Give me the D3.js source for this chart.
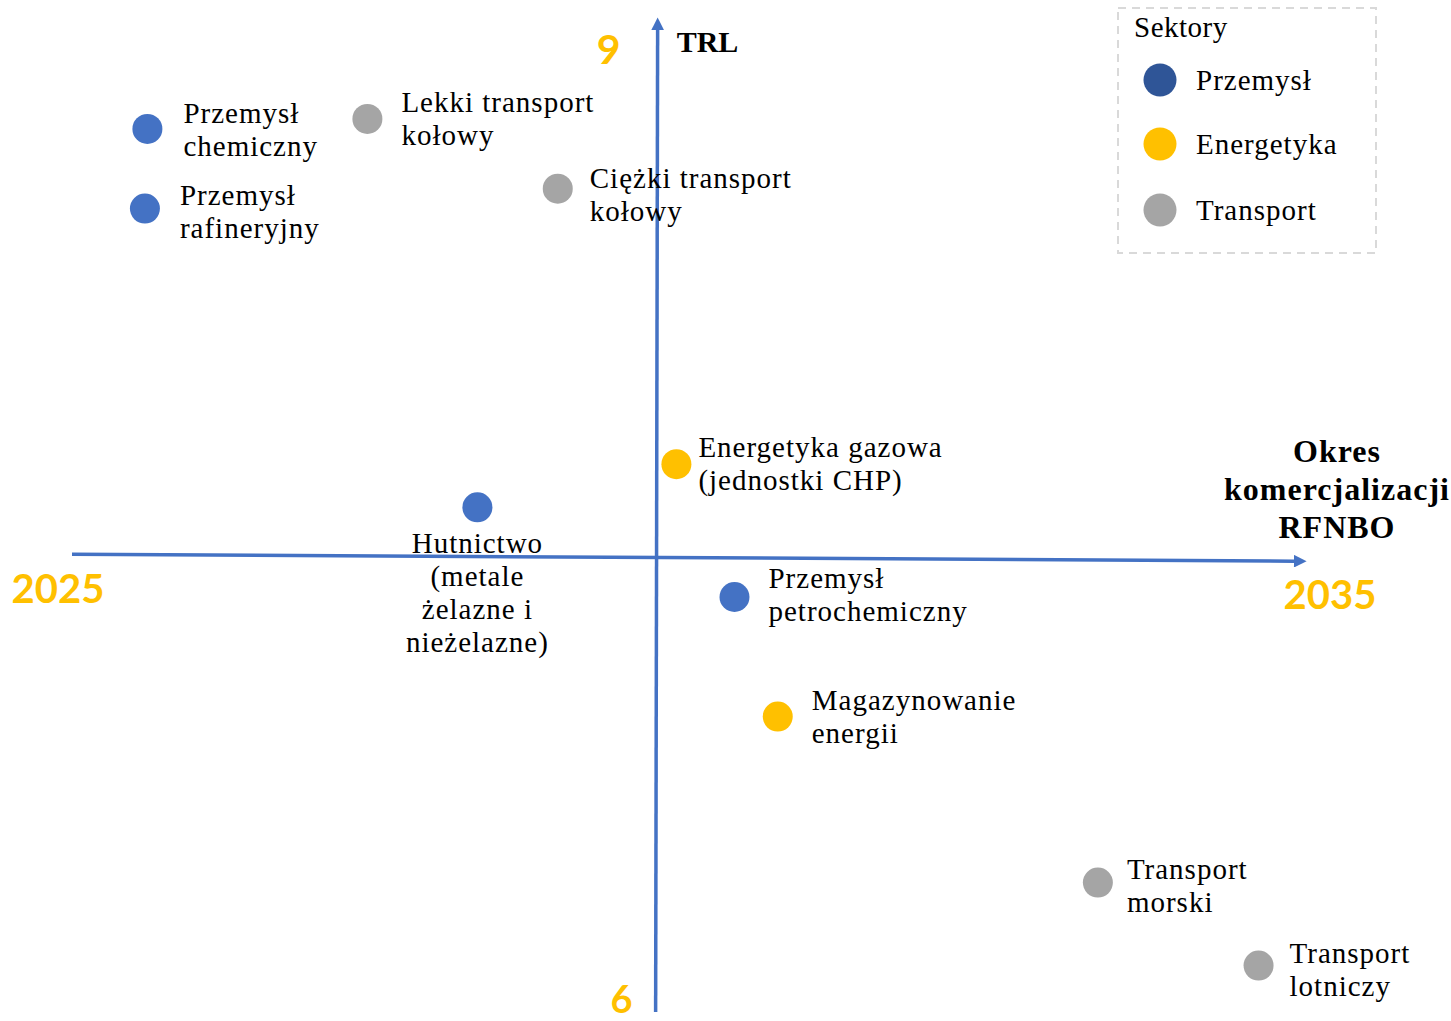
<!DOCTYPE html>
<html><head><meta charset="utf-8">
<script src="https://cdn.jsdelivr.net/npm/d3@7"></script>
<style>
html,body{margin:0;padding:0;background:#fff;}
svg{display:block;}
</style></head>
<body>
<svg id="chart" width="1451" height="1021"></svg>
<script>
// ---- data ----
const labels = [
  ["Przemysł", "chemiczny"],
  ["Lekki transport", "kołowy"],
  ["Przemysł", "rafineryjny"],
  ["Ciężki transport", "kołowy"],
  ["Energetyka gazowa", "(jednostki CHP)"],
  ["Hutnictwo", "(metale", "żelazne i", "nieżelazne)"],
  ["Przemysł", "petrochemiczny"],
  ["Magazynowanie", "energii"],
  ["Transport", "morski"],
  ["Transport", "lotniczy"]
];
const sectors = ["Przemysł","Transport","Przemysł","Transport","Energetyka","Przemysł","Przemysł","Energetyka","Transport","Transport"];
const years = [2025.61, 2027.39, 2025.59, 2028.93, 2029.89, 2028.28, 2030.36, 2030.71, 2033.30, 2034.60];
const trl   = [8.66, 8.69, 8.42, 8.48, 7.65, 7.52, 7.25, 6.89, 6.39, 6.14];
const legendSectors = ["Przemysł","Energetyka","Transport"];
const yearTicks = [2025, 2035];
const trlTicks = [9, 6];
const crossYear = 2029.73, crossTrl = 7.37;

// ---- layout (label offsets from their dots, in px) ----
const labelDx = [36, 34, 35, 32, 22, 0, 34, 34, 29, 31];
const labelDy = [-6, -7, -4, -1, -7, 46, -9, -7, -4, -3];

// ---- scales ----
const x = d3.scaleLinear().domain([2025, 2035]).range([72, 1308]);
const y = d3.scaleLinear().domain([6, 9]).range([1012, 16]);
const color = d3.scaleOrdinal().domain(legendSectors).range(["#4472C4","#FFC000","#A5A5A5"]);
const legendColor = d3.scaleOrdinal().domain(legendSectors).range(["#2F5597","#FFC000","#A5A5A5"]);

const svg = d3.select("#chart");
const serif = "'Liberation Serif','DejaVu Serif',serif";
const sans = "Lato,'Open Sans',sans-serif";
const axisCol = "#4472C4";

// arrow markers
const defs = svg.append("defs");
defs.append("marker").attr("id","arr").attr("viewBox","0 0 10 10")
  .attr("refX",0).attr("refY",5).attr("markerWidth",4.2).attr("markerHeight",3.6)
  .attr("markerUnits","strokeWidth").attr("orient","auto")
  .append("path").attr("d","M0,0L10,5L0,10Z").attr("fill",axisCol);

// horizontal axis (slightly tilted as in reference)
svg.append("line")
  .attr("x1", x(2025)).attr("y1", y(crossTrl) - 3)
  .attr("x2", x(2035) - 14).attr("y2", y(crossTrl) + 4)
  .attr("stroke", axisCol).attr("stroke-width", 3.5)
  .attr("marker-end","url(#arr)");
// vertical axis
svg.append("line")
  .attr("x1", x(crossYear) - 1).attr("y1", y(6))
  .attr("x2", x(crossYear) + 1).attr("y2", y(9) + 14)
  .attr("stroke", axisCol).attr("stroke-width", 3.5)
  .attr("marker-end","url(#arr)");

// tick labels (orange)
svg.append("text").attr("x", x(yearTicks[0]) - 14).attr("y", 603)
  .attr("text-anchor","middle").attr("font-family",sans).attr("font-weight","bold")
  .attr("font-size",40).attr("fill","#FFC000").text(yearTicks[0]);
svg.append("text").attr("x", x(yearTicks[1]) + 22).attr("y", 609)
  .attr("text-anchor","middle").attr("font-family",sans).attr("font-weight","bold")
  .attr("font-size",40).attr("fill","#FFC000").text(yearTicks[1]);
svg.append("text").attr("x", x(crossYear) - 48).attr("y", y(trlTicks[0]) + 48)
  .attr("text-anchor","middle").attr("font-family",sans).attr("font-weight","bold")
  .attr("font-size",41).attr("fill","#FFC000").text(trlTicks[0]);
svg.append("text").attr("x", x(crossYear) - 35).attr("y", 1013)
  .attr("text-anchor","middle").attr("font-family",sans).attr("font-weight","bold")
  .attr("font-size",38).attr("fill","#FFC000").text(trlTicks[1]);

// axis titles
svg.append("text").attr("x", x(crossYear) + 20).attr("y", 52)
  .attr("font-family",serif).attr("font-weight","bold").attr("font-size",30)
  .attr("fill","#000").text("TRL");
const xt = svg.append("text").attr("text-anchor","middle")
  .attr("font-family",serif).attr("font-weight","bold").attr("font-size",32)
  .attr("letter-spacing",1).attr("fill","#000");
["Okres","komercjalizacji","RFNBO"].forEach((t,i)=>{
  xt.append("tspan").attr("x",1337).attr("y",462 + i*38).text(t);
});

// points
const pts = labels.map((l,i)=>({label:l, sector:sectors[i], year:years[i], trl:trl[i], i}));
svg.selectAll("circle.pt").data(pts).enter().append("circle").attr("class","pt")
  .attr("cx", d=>x(d.year)).attr("cy", d=>y(d.trl)).attr("r", 15)
  .attr("fill", d=>color(d.sector));

// labels
pts.forEach(d=>{
  const cx = x(d.year), cy = y(d.trl);
  const centered = d.label.length > 2;
  const t = svg.append("text").attr("font-family",serif).attr("font-size",29)
    .attr("letter-spacing",1).attr("fill","#000")
    .attr("text-anchor", centered ? "middle" : "start");
  d.label.forEach((line,k)=>{
    t.append("tspan")
      .attr("x", cx + labelDx[d.i])
      .attr("y", cy + labelDy[d.i] + k*33)
      .text(line);
  });
});

// legend
svg.append("rect").attr("x",1118).attr("y",8).attr("width",258).attr("height",245)
  .attr("fill","none").attr("stroke","#D9D9D9").attr("stroke-width",2)
  .attr("stroke-dasharray","8,6");
svg.append("text").attr("x",1134).attr("y",37).attr("font-family",serif).attr("font-size",29)
  .attr("letter-spacing",0.5).attr("fill","#000").text("Sektory");
legendSectors.forEach((s,i)=>{
  const ly = [80,144,210][i];
  svg.append("circle").attr("cx",1160).attr("cy",ly).attr("r",16.5).attr("fill",legendColor(s));
  svg.append("text").attr("x",1196).attr("y",ly+10).attr("font-family",serif).attr("font-size",29)
    .attr("letter-spacing",1).attr("fill","#000").text(s);
});
</script>
</body></html>
